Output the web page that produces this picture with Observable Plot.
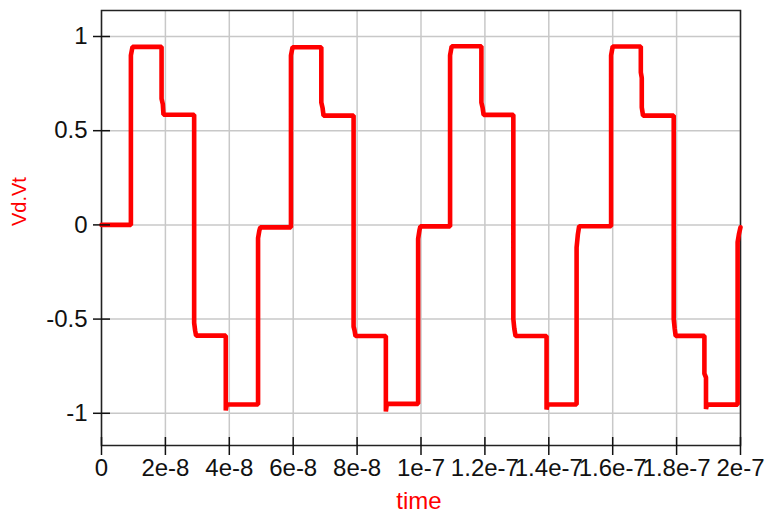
<!DOCTYPE html>
<html>
<head>
<meta charset="utf-8">
<script src="https://cdn.jsdelivr.net/npm/d3@7"></script>
<script src="https://cdn.jsdelivr.net/npm/@observablehq/plot@0.6"></script>
<style>
  html, body { margin: 0; padding: 0; background: #fff; }
  #chart svg { display: block; }
</style>
</head>
<body>
<div id="chart"></div>
<script>
// Transient simulation trace: time (s) and Vd.Vt (V)
const time = [
  0, 0.92e-8,
  0.92e-8, 0.97e-8, 1.88e-8, 1.88e-8, 1.92e-8, 1.94e-8, 2.90e-8, 2.90e-8, 2.93e-8, 2.96e-8,
  3.89e-8, 3.89e-8, 3.92e-8, 4.90e-8, 4.90e-8, 4.94e-8, 4.97e-8, 5.93e-8,
  5.93e-8, 5.98e-8, 6.88e-8, 6.88e-8, 6.92e-8, 6.95e-8, 7.89e-8, 7.89e-8, 7.92e-8, 7.95e-8,
  8.90e-8, 8.90e-8, 8.93e-8, 9.91e-8, 9.91e-8, 9.95e-8, 9.98e-8, 10.91e-8,
  10.91e-8, 10.96e-8, 11.89e-8, 11.89e-8, 11.93e-8, 11.96e-8, 12.89e-8, 12.89e-8, 12.92e-8, 12.96e-8,
  13.93e-8, 13.93e-8, 13.96e-8, 14.87e-8, 14.87e-8, 14.91e-8, 14.95e-8, 15.95e-8,
  15.95e-8, 16.00e-8, 16.88e-8, 16.88e-8, 16.91e-8, 16.91e-8, 16.95e-8, 17.91e-8, 17.91e-8, 17.94e-8, 17.97e-8,
  18.87e-8, 18.87e-8, 18.92e-8, 18.92e-8, 18.95e-8, 19.91e-8, 19.91e-8, 19.95e-8, 20.0e-8
];
const vdvt = [
  0, 0,
  0.90, 0.945, 0.945, 0.67, 0.64, 0.585, 0.585, -0.52, -0.56, -0.588,
  -0.588, -0.985, -0.953, -0.953, -0.07, -0.03, -0.013, -0.013,
  0.90, 0.943, 0.943, 0.65, 0.62, 0.58, 0.58, -0.54, -0.56, -0.59,
  -0.59, -0.99, -0.95, -0.95, -0.074, -0.03, -0.008, -0.008,
  0.90, 0.948, 0.948, 0.65, 0.62, 0.584, 0.584, -0.50, -0.55, -0.59,
  -0.59, -0.98, -0.953, -0.953, -0.12, -0.05, -0.007, -0.007,
  0.90, 0.947, 0.947, 0.81, 0.78, 0.624, 0.58, 0.58, -0.50, -0.55, -0.589,
  -0.589, -0.79, -0.81, -0.977, -0.954, -0.954, -0.092, -0.05, -0.013
];

const xTicks = [0, 2e-8, 4e-8, 6e-8, 8e-8, 1e-7, 1.2e-7, 1.4e-7, 1.6e-7, 1.8e-7, 2e-7];
const xTickLabels = ["0", "2e-8", "4e-8", "6e-8", "8e-8", "1e-7", "1.2e-7", "1.4e-7", "1.6e-7", "1.8e-7", "2e-7"];
const yTicks = [-1, -0.5, 0, 0.5, 1];
const yTickLabels = ["-1", "-0.5", "0", "0.5", "1"];

const xLabel = "time";
const yLabel = "Vd.Vt";

const trace = time.map((t, i) => ({t, v: vdvt[i]}));
const xFmt = new Map(xTicks.map((d, i) => [d, xTickLabels[i]]));
const yFmt = new Map(yTicks.map((d, i) => [d, yTickLabels[i]]));

const red = "#ff0000";
const ink = "#111";
const gridStyle = {stroke: "#c8c8c8", strokeOpacity: 1, strokeWidth: 1.5};

const chart = Plot.plot({
  width: 767,
  height: 512,
  marginLeft: 101,
  marginRight: 27,
  marginTop: 10,
  marginBottom: 67,
  style: {
    fontFamily: "'Liberation Sans', Arial, Helvetica, sans-serif",
    fontSize: "24px",
    background: "#fff",
    color: ink
  },
  x: {domain: [0, 2e-7]},
  y: {domain: [-1.171, 1.138]},
  marks: [
    Plot.gridX(xTicks, gridStyle),
    Plot.gridY(yTicks, gridStyle),
    Plot.frame({stroke: "#222", strokeWidth: 1.5}),
    Plot.line(trace, {x: "t", y: "v", stroke: red, strokeWidth: 4.6, strokeLinejoin: "miter"}),
    // tick marks crossing the axes
    Plot.axisX(xTicks, {tickSize: 18, dy: -8, fill: "none", stroke: ink, strokeWidth: 1.5, label: null}),
    Plot.axisY(yTicks, {tickSize: 17, dx: 9, fill: "none", stroke: ink, strokeWidth: 1.5, label: null}),
    // tick labels
    Plot.axisX(xTicks, {tickSize: 0, tickPadding: 13, stroke: "none", fill: ink, fontSize: 24,
      tickFormat: d => xFmt.get(d), label: null}),
    Plot.axisY(yTicks, {tickSize: 0, tickPadding: 14, stroke: "none", fill: ink, fontSize: 24,
      tickFormat: d => yFmt.get(d), label: null}),
    // axis titles
    Plot.text([xLabel], {frameAnchor: "bottom", dx: -2, dy: 63, fill: red, fontSize: 24}),
    Plot.text([yLabel], {frameAnchor: "left", dx: -82, dy: -2, rotate: -90, fill: red, fontSize: "20px"})
  ]
});

document.getElementById("chart").append(chart);
</script>
</body>
</html>
